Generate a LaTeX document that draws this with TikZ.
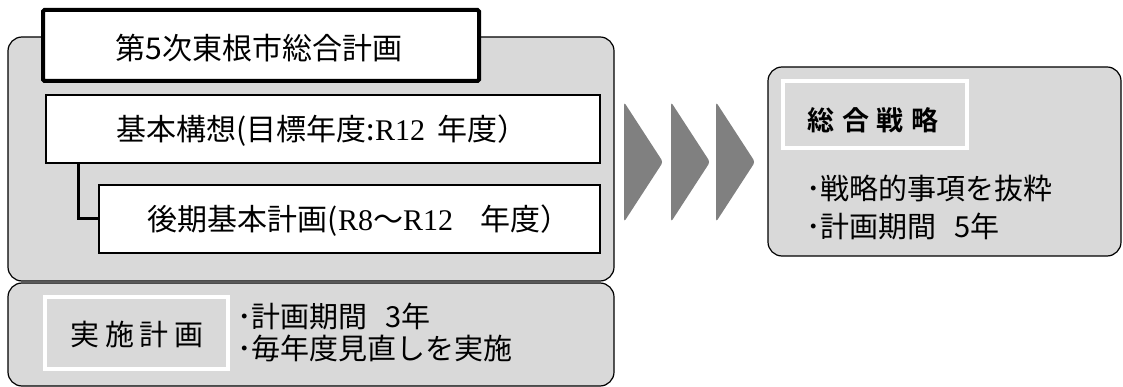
\documentclass[tikz,border=0pt]{standalone}
\usepackage{fontspec}
\setmainfont{Noto Sans CJK JP}[BoldFont={Noto Sans CJK JP Bold}]
\newfontfamily\latinserif{Liberation Serif}
\definecolor{panelgray}{HTML}{D9D9D9}
\definecolor{arrowgray}{HTML}{808080}
\tikzset{
  panel/.style={draw=black, line width=1.2pt, fill=panelgray, rounded corners=14pt, inner sep=0pt},
  titlebox/.style={draw=black, line width=4pt, fill=white, rounded corners=1.5pt, inner sep=0pt},
  planbox/.style={draw=black, line width=2pt, fill=white, inner sep=0pt},
  labelbox/.style={draw=white, line width=4pt, fill=panelgray, inner sep=0pt},
  conn/.style={draw=black, line width=3pt},
  chev/.style={fill=arrowgray, rounded corners=3pt},
  txt/.style={font=\fontsize{29pt}{34pt}\selectfont, text=black, inner sep=0pt},
  bigtxt/.style={font=\fontsize{30pt}{34pt}\selectfont, text=black, inner sep=0pt},
  bul/.style={txt, align=left, anchor=west},
}
\newcommand{\ser}[1]{{\latinserif #1}}
\begin{document}
\begin{tikzpicture}[x=1pt, y=-1pt]
\useasboundingbox (0,0) rectangle (1123,387);
% outer panels
\node[panel, minimum width=606pt, minimum height=244pt] (panelA) at (311,159) {};
\node[panel, minimum width=606pt, minimum height=103pt] (panelB) at (311,334.5) {};
% title
\node[titlebox, minimum width=436pt, minimum height=71pt] (title) at (261,45.5) {};
\node[bigtxt] (titletext) at (259,48) {第5次東根市総合計画};
% kihon koso
\node[planbox, minimum width=554pt, minimum height=68pt] (kihon) at (323,129) {};
\node[bigtxt] (kihontext) at (322,131) {基本構想(目標年度:\ser{R12}\hspace{0.4em}年度）};
% koki
\node[planbox, minimum width=501pt, minimum height=68pt] (koki) at (349.5,219) {};
\node[bigtxt] (kokitext) at (359,221) {後期基本計画(\ser{R8}～\ser{R12}\hspace{0.9em}年度）};
\draw[conn] (kihon.south west) ++(33,0) coordinate (cA) |- (koki.west);
% jisshi keikaku
\node[labelbox, minimum width=183pt, minimum height=72pt] (jisshi) at (136.5,333) {};
\node[txt] (jisshitext) at (137,334) {実\hspace{0.2em}施\hspace{0.2em}計\hspace{0.2em}画};
\node[bul] (jb1) at (237,316) {･計画期間\hspace{0.6em}3年};
\node[bul] (jb2) at (237,348) {･毎年度見直しを実施};
% arrows
\fill[chev] (624,102) -- (663,162) -- (624,222) -- cycle;
\fill[chev] (671,102) -- (710,162) -- (671,222) -- cycle;
\fill[chev] (716,102) -- (755,162) -- (716,222) -- cycle;
% right panel
\node[panel, minimum width=353pt, minimum height=189pt] (panelC) at (944.5,161.5) {};
\node[labelbox, minimum width=184pt, minimum height=67pt] (senryaku) at (875,114.5) {};
\node[txt, font=\fontsize{27pt}{32pt}\selectfont\bfseries] (senryakutext) at (873,120) {総\hspace{0.28em}合\hspace{0.28em}戦\hspace{0.28em}略};
\node[bul] (sb1) at (806,188) {･戦略的事項を抜粋};
\node[bul] (sb2) at (806,226) {･計画期間\hspace{0.6em}5年};
\end{tikzpicture}
\end{document}
